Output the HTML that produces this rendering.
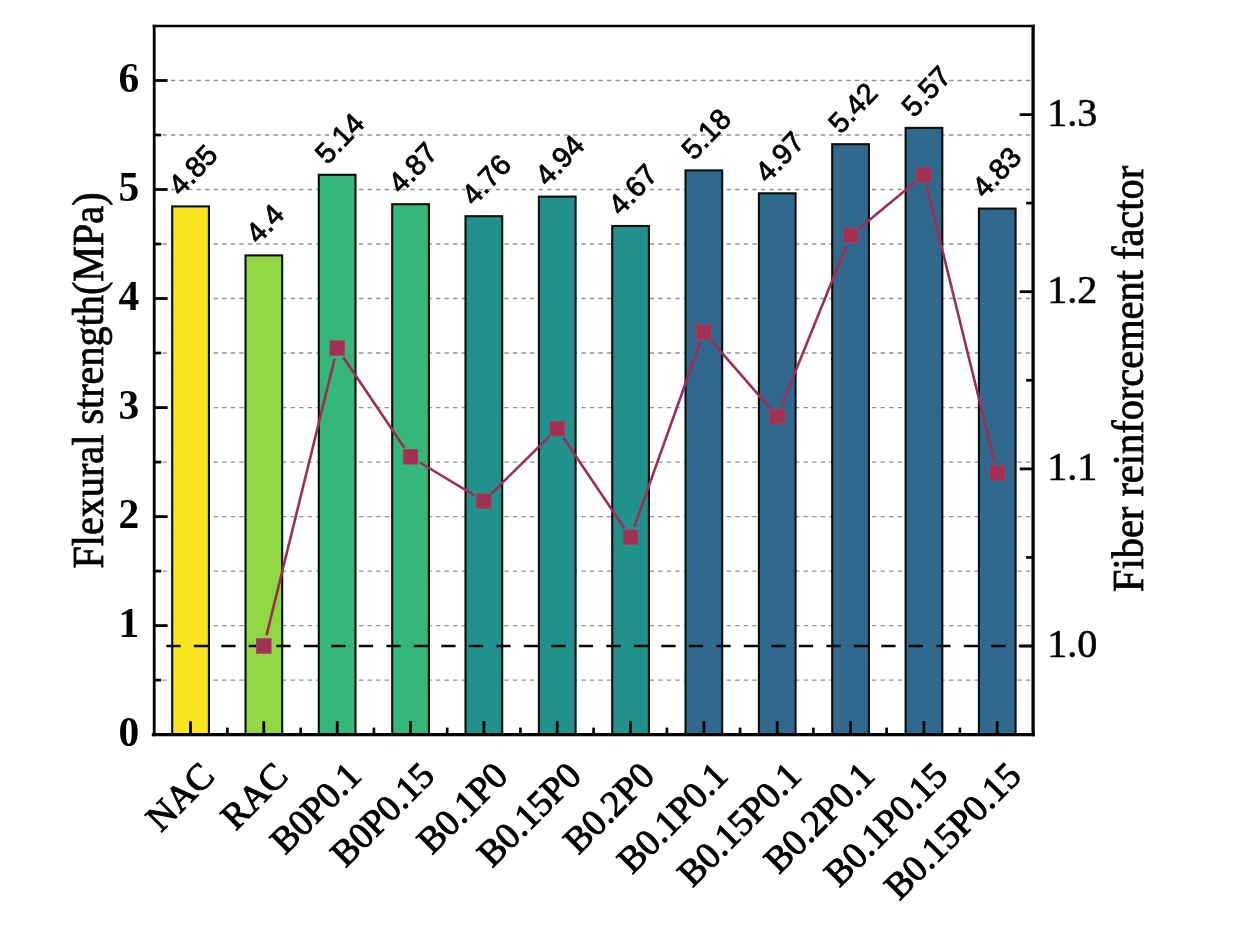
<!DOCTYPE html>
<html lang="en"><head><meta charset="utf-8"><title>Flexural strength chart</title>
<style>html,body{margin:0;padding:0;background:#fff}body{width:1235px;height:925px;overflow:hidden}svg{display:block}
.ser{font-family:"Liberation Serif","Times New Roman",serif}.san{font-family:"Liberation Sans",Arial,sans-serif}</style></head><body>
<svg width="1235" height="925" viewBox="0 0 1235 925">
<rect width="1235" height="925" fill="#fff"/>
<g stroke="#949494" stroke-width="1.3" stroke-dasharray="4.35 4.2" fill="none">
<path d="M153.8 680.1H1031.6"/>
<path d="M153.8 625.6H1031.6"/>
<path d="M153.8 571.1H1031.6"/>
<path d="M153.8 516.6H1031.6"/>
<path d="M153.8 462.1H1031.6"/>
<path d="M153.8 407.6H1031.6"/>
<path d="M153.8 353.0H1031.6"/>
<path d="M153.8 298.5H1031.6"/>
<path d="M153.8 244.0H1031.6"/>
<path d="M153.8 189.5H1031.6"/>
<path d="M153.8 135.0H1031.6"/>
<path d="M153.8 80.5H1031.6"/>
</g>
<g stroke="#0a0f08" stroke-width="2.1">
<rect x="172.2" y="206.4" width="36.7" height="528.2" fill="#f8e621"/>
<rect x="245.5" y="255.4" width="36.7" height="479.2" fill="#90d743"/>
<rect x="318.8" y="174.8" width="36.7" height="559.8" fill="#35b779"/>
<rect x="392.2" y="204.2" width="36.7" height="530.4" fill="#35b779"/>
<rect x="465.5" y="216.2" width="36.7" height="518.4" fill="#21918c"/>
<rect x="538.9" y="196.6" width="36.7" height="538.0" fill="#21918c"/>
<rect x="612.2" y="226.0" width="36.7" height="508.6" fill="#21918c"/>
<rect x="685.5" y="170.4" width="36.7" height="564.2" fill="#31688e"/>
<rect x="758.9" y="193.3" width="36.7" height="541.3" fill="#31688e"/>
<rect x="832.2" y="144.2" width="36.7" height="590.4" fill="#31688e"/>
<rect x="905.6" y="127.9" width="36.7" height="606.7" fill="#31688e"/>
<rect x="978.9" y="208.6" width="36.7" height="526.0" fill="#31688e"/>
</g>
<g stroke="#000" stroke-width="2.8" fill="none">
<path d="M154.2 625.6h13.4"/>
<path d="M154.2 516.6h13.4"/>
<path d="M154.2 407.6h13.4"/>
<path d="M154.2 298.5h13.4"/>
<path d="M154.2 189.5h13.4"/>
<path d="M154.2 80.5h13.4"/>
<path d="M1033.1 646.0h-13.4"/>
<path d="M1033.1 468.9h-13.4"/>
<path d="M1033.1 291.7h-13.4"/>
<path d="M1033.1 114.6h-13.4"/>
<path d="M190.5 734.6v-13.4"/>
<path d="M263.8 734.6v-13.4"/>
<path d="M337.2 734.6v-13.4"/>
<path d="M410.5 734.6v-13.4"/>
<path d="M483.9 734.6v-13.4"/>
<path d="M557.2 734.6v-13.4"/>
<path d="M630.5 734.6v-13.4"/>
<path d="M703.9 734.6v-13.4"/>
<path d="M777.2 734.6v-13.4"/>
<path d="M850.6 734.6v-13.4"/>
<path d="M923.9 734.6v-13.4"/>
<path d="M997.2 734.6v-13.4"/>
</g>
<g stroke="#000" stroke-width="2.7" fill="none">
<path d="M154.2 680.1h7"/>
<path d="M154.2 571.1h7"/>
<path d="M154.2 462.1h7"/>
<path d="M154.2 353.0h7"/>
<path d="M154.2 244.0h7"/>
<path d="M154.2 135.0h7"/>
<path d="M1033.1 557.4h-7"/>
<path d="M1033.1 380.3h-7"/>
<path d="M1033.1 203.1h-7"/>
<path d="M227.4 734.6v-7"/>
<path d="M300.7 734.6v-7"/>
<path d="M373.9 734.6v-7"/>
<path d="M447.2 734.6v-7"/>
<path d="M520.4 734.6v-7"/>
<path d="M593.6 734.6v-7"/>
<path d="M666.9 734.6v-7"/>
<path d="M740.1 734.6v-7"/>
<path d="M813.4 734.6v-7"/>
<path d="M886.6 734.6v-7"/>
<path d="M959.9 734.6v-7"/>
</g>
<path d="M166.3 646.0H1031.6" stroke="#0a0a0a" stroke-width="2.7" stroke-dasharray="14.3 13.2" fill="none"/>
<g stroke="#9d2e55" stroke-width="2.6" fill="none">
<path d="M266.5 635.3L334.6 358.8"/>
<path d="M343.3 357.2L404.4 447.7"/>
<path d="M419.9 462.5L474.4 495.4"/>
<path d="M491.7 493.4L549.4 436.3"/>
<path d="M563.4 437.7L624.4 528.2"/>
<path d="M634.2 527.0L700.2 342.3"/>
<path d="M711.1 340.3L770.0 408.2"/>
<path d="M781.3 406.3L846.4 245.6"/>
<path d="M859.1 228.4L915.4 182.0"/>
<path d="M926.5 185.6L994.6 462.2"/>
</g>
<g fill="#a13053" stroke="#a9405f" stroke-width="0.8">
<rect x="256.5" y="638.7" width="14.6" height="14.6"/>
<rect x="329.9" y="340.8" width="14.6" height="14.6"/>
<rect x="403.2" y="449.5" width="14.6" height="14.6"/>
<rect x="476.6" y="493.8" width="14.6" height="14.6"/>
<rect x="549.9" y="421.3" width="14.6" height="14.6"/>
<rect x="623.2" y="530.0" width="14.6" height="14.6"/>
<rect x="696.6" y="324.7" width="14.6" height="14.6"/>
<rect x="769.9" y="409.2" width="14.6" height="14.6"/>
<rect x="843.3" y="228.1" width="14.6" height="14.6"/>
<rect x="916.6" y="167.7" width="14.6" height="14.6"/>
<rect x="989.9" y="465.6" width="14.6" height="14.6"/>
</g>
<g stroke="#000" fill="none">
<path d="M154.2 24.7V736.2" stroke-width="2.8"/>
<path d="M1033.1 24.7V736.2" stroke-width="3.3"/>
<path d="M152.6 26.0H1034.7" stroke-width="2.6"/>
<path d="M151.8 734.6H1034.9" stroke-width="3.2"/>
</g>
<g class="san" font-size="28.8" fill="#000" stroke="#000" stroke-width="0.8" text-anchor="middle">
<text transform="translate(192.5 169.6) rotate(-46.5)" y="10.3">4.85</text>
<text transform="translate(264.5 223.4) rotate(-46.5)" y="10.3">4.4</text>
<text transform="translate(339.2 138.0) rotate(-46.5)" y="10.3">5.14</text>
<text transform="translate(412.5 167.4) rotate(-46.5)" y="10.3">4.87</text>
<text transform="translate(485.9 179.4) rotate(-46.5)" y="10.3">4.76</text>
<text transform="translate(559.2 159.8) rotate(-46.5)" y="10.3">4.94</text>
<text transform="translate(632.5 189.2) rotate(-46.5)" y="10.3">4.67</text>
<text transform="translate(705.9 133.7) rotate(-46.5)" y="10.3">5.18</text>
<text transform="translate(779.2 156.5) rotate(-46.5)" y="10.3">4.97</text>
<text transform="translate(852.6 107.5) rotate(-46.5)" y="10.3">5.42</text>
<text transform="translate(925.9 91.1) rotate(-46.5)" y="10.3">5.57</text>
<text transform="translate(996.2 171.8) rotate(-46.5)" y="10.3">4.83</text>
</g>
<g class="ser" font-size="37" fill="#000" stroke="#000" stroke-width="1.0" text-anchor="end">
<text transform="translate(216.3 777.7) rotate(-45)">NAC</text>
<text transform="translate(289.6 777.7) rotate(-45)">RAC</text>
<text transform="translate(363.0 777.7) rotate(-45)">B0P0.1</text>
<text transform="translate(436.3 777.7) rotate(-45)">B0P0.15</text>
<text transform="translate(509.7 777.7) rotate(-45)">B0.1P0</text>
<text transform="translate(583.0 777.7) rotate(-45)">B0.15P0</text>
<text transform="translate(656.3 777.7) rotate(-45)">B0.2P0</text>
<text transform="translate(729.7 777.7) rotate(-45)">B0.1P0.1</text>
<text transform="translate(803.0 777.7) rotate(-45)">B0.15P0.1</text>
<text transform="translate(876.4 777.7) rotate(-45)">B0.2P0.1</text>
<text transform="translate(949.7 777.7) rotate(-45)">B0.1P0.15</text>
<text transform="translate(1023.0 777.7) rotate(-45)">B0.15P0.15</text>
</g>
<g class="ser" font-size="41.5" font-weight="bold" fill="#000" text-anchor="end">
<text x="139.3" y="745.6">0</text>
<text x="139.3" y="636.6">1</text>
<text x="139.3" y="527.6">2</text>
<text x="139.3" y="418.6">3</text>
<text x="139.3" y="309.5">4</text>
<text x="139.3" y="200.5">5</text>
<text x="139.3" y="91.5">6</text>
</g>
<g class="ser" font-size="40" fill="#000" stroke="#000" stroke-width="0.6" text-anchor="start">
<text x="1047.3" y="657.2">1.0</text>
<text x="1047.3" y="480.1">1.1</text>
<text x="1047.3" y="302.9">1.2</text>
<text x="1047.3" y="125.8">1.3</text>
</g>
<g class="ser" font-size="40.2" fill="#000" stroke="#000" stroke-width="0.7" text-anchor="middle">
<text transform="translate(103.1 380.5) rotate(-90) scale(1 1.12)">Flexural strength(MPa)</text>
<text transform="translate(1142.6 378.9) rotate(-90) scale(1 1.12)" font-size="40.4">Fiber reinforcement factor</text>
</g>
</svg></body></html>
